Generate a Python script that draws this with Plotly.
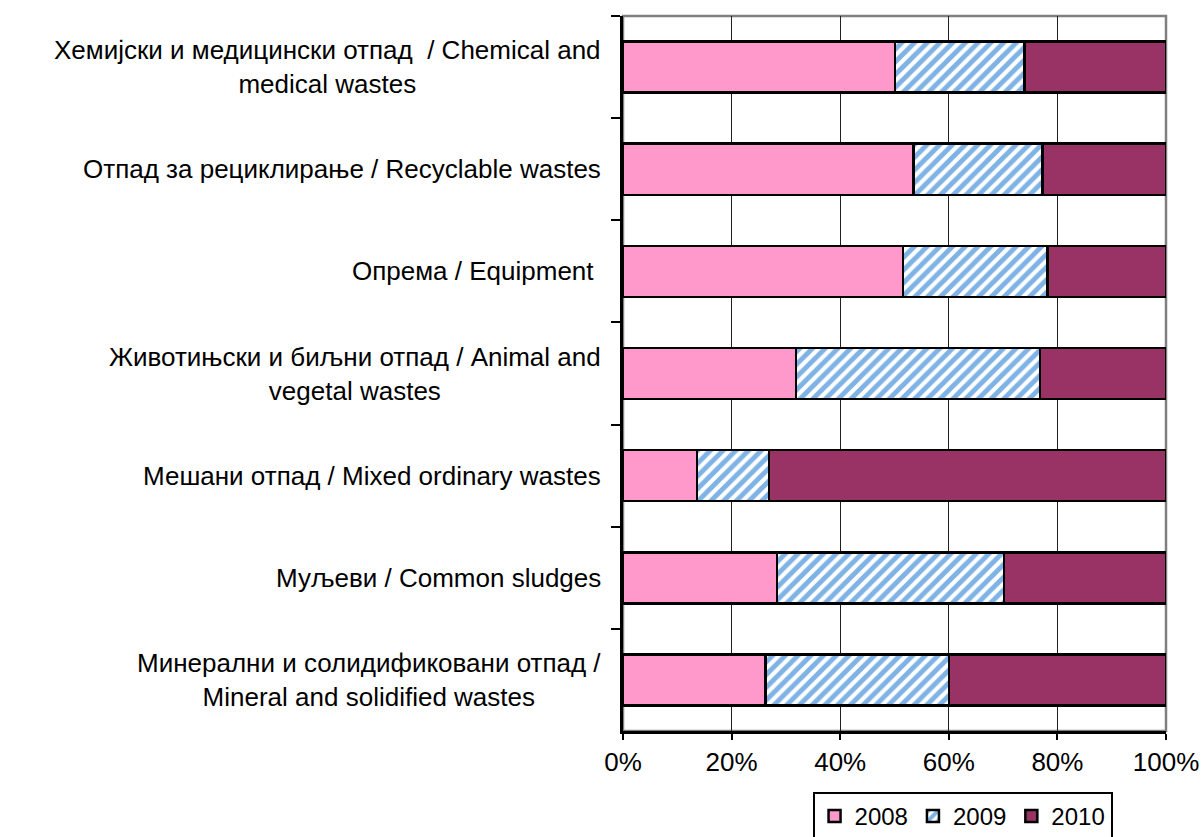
import plotly.graph_objects as go

categories = [
    "Хемијски и медицински отпад  / Chemical and<br>medical wastes",
    "Отпад за рециклирање / Recyclable wastes",
    "Опрема / Equipment\u00a0",
    "Животињски и биљни отпад / Animal and<br>vegetal wastes",
    "Мешани отпад / Mixed ordinary wastes",
    "Муљеви / Common sludges",
    "Минерални и солидификовани отпад /<br>Mineral and solidified wastes",
]
share_2008 = [50.1, 53.5, 51.6, 31.9, 13.6, 28.4, 26.2]
share_2009 = [23.8, 23.8, 26.6, 44.9, 13.3, 41.8, 33.8]
share_2010 = [26.1, 22.7, 21.8, 23.2, 73.1, 29.8, 40.0]
x_ticks = [0, 20, 40, 60, 80, 100]
x_tick_labels = ["0%", "20%", "40%", "60%", "80%", "100%"]

FONT = "Liberation Sans, Arial, sans-serif"
FS = 26

fig = go.Figure()
fig.add_trace(go.Bar(
    y=categories, x=share_2008, name="2008", orientation="h",
    marker=dict(color="#FF99CC", line=dict(color="black", width=2.5)),
))
fig.add_trace(go.Bar(
    y=categories, x=share_2009, name="2009", orientation="h",
    marker=dict(
        color="white",
        line=dict(color="black", width=2.5),
        pattern=dict(shape="/", fgcolor="#0066CC", bgcolor="white", size=9, solidity=0.55),
    ),
))
fig.add_trace(go.Bar(
    y=categories, x=share_2010, name="2010", orientation="h",
    marker=dict(color="#993366", line=dict(color="black", width=2.5)),
))

# category labels as centred annotations (multi-line text centred like the source)
for c in categories:
    fig.add_annotation(
        x=0, xref="paper", y=c, yref="y", text=c, showarrow=False,
        xanchor="right", xshift=-20, align="center",
        font=dict(family=FONT, size=FS, color="black"),
    )

# grey plot-area frame (top/right edges)
fig.add_shape(type="rect", xref="paper", yref="paper", x0=0, x1=1, y0=0, y1=1,
              line=dict(color="#808080", width=2.5), layer="below")

fig.update_layout(
    barmode="stack",
    bargap=0.5,
    width=1202, height=837,
    margin=dict(l=623, r=36, t=16, b=106),
    paper_bgcolor="white", plot_bgcolor="white",
    font=dict(family=FONT, size=FS, color="black"),
    showlegend=True,
    legend=dict(
        orientation="h", xref="container", yref="container",
        x=0.676, xanchor="left", y=0.054, yanchor="top",
        bordercolor="black", borderwidth=2, font=dict(size=24),
        traceorder="normal", itemwidth=30,
    ),
    xaxis=dict(
        range=[0, 100], tickvals=x_ticks, ticktext=x_tick_labels,
        showgrid=True, gridcolor="#202020", gridwidth=1,
        showline=True, linecolor="black", linewidth=3,
        ticks="outside", ticklen=6, tickwidth=2, tickcolor="black",
        zeroline=False, fixedrange=True, automargin=False,
    ),
    yaxis=dict(
        autorange="reversed", showticklabels=False,
        tickson="boundaries", ticks="outside", ticklen=9, tickwidth=2, tickcolor="black",
        showline=True, linecolor="black", linewidth=3,
        showgrid=False, zeroline=False, automargin=False,
    ),
)

fig.write_html(
    "out.html",
    config={"displayModeBar": False},
    post_script="document.body.style.margin='0';",
)
